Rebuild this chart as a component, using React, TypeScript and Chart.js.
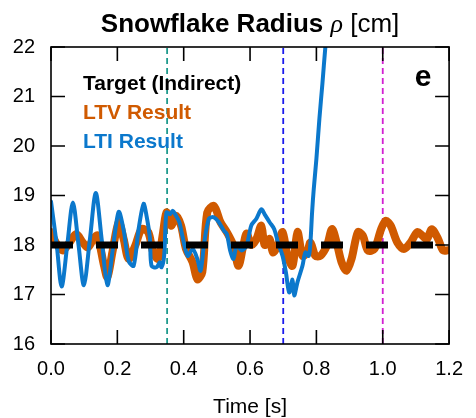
import { useEffect, useRef } from "react";
import { Chart, registerables } from "chart.js";

Chart.register(...registerables);

// Axis ticks
const xTickValues = [0, 0.2, 0.4, 0.6, 0.8, 1.0, 1.2];
const yTickValues = [16, 17, 18, 19, 20, 21, 22];

// Indirect target radius
const targetTime = [0, 1.2];
const targetValue = [18, 18];

// LTV controller response
const ltvTime = [
  0.0, 0.017, 0.036, 0.056, 0.076, 0.096, 0.111, 0.13, 0.14, 0.16, 0.17, 0.185,
  0.204, 0.219, 0.234, 0.254, 0.273, 0.293, 0.308, 0.323, 0.338, 0.348, 0.362,
  0.377, 0.392, 0.407, 0.427, 0.441, 0.456, 0.471, 0.491, 0.511, 0.53, 0.55,
  0.565, 0.58, 0.59, 0.604, 0.619, 0.634, 0.644, 0.659, 0.669, 0.684, 0.698,
  0.713, 0.728, 0.743, 0.758, 0.772, 0.782, 0.797, 0.812, 0.832, 0.847, 0.861,
  0.876, 0.891, 0.906, 0.925, 0.94, 0.955, 0.975, 0.995, 1.009, 1.024, 1.044,
  1.064, 1.084, 1.104, 1.119, 1.133, 1.148, 1.167, 1.182, 1.2,
];
const ltvValue = [
  18.26, 18.02, 17.89, 18.05, 18.22, 18.05, 17.95, 18.15, 18.19, 17.58, 17.35,
  17.85, 18.46, 18.12, 17.72, 17.99, 18.32, 18.26, 17.85, 17.72, 18.26, 18.66,
  18.39, 18.59, 18.39, 17.92, 17.65, 17.31, 17.45, 18.66, 18.79, 18.46, 18.26,
  17.99, 17.58, 18.0, 18.23, 18.0, 18.12, 18.39, 18.0, 18.12, 17.85, 18.0,
  18.26, 17.78, 17.58, 18.26, 17.78, 17.85, 18.05, 17.78, 17.78, 17.99, 18.32,
  18.05, 17.65, 17.48, 17.72, 18.26, 18.19, 17.89, 17.92, 18.32, 18.49, 18.39,
  18.05, 17.92, 18.05, 18.26, 18.19, 18.12, 18.32, 18.12, 17.89, 17.9,
];

// LTI controller response (diverges after ~0.78 s)
const ltiTime = [
  0.0, 0.017, 0.032, 0.049, 0.066, 0.083, 0.099, 0.117, 0.135, 0.153, 0.17,
  0.187, 0.204, 0.219, 0.234, 0.249, 0.264, 0.279, 0.288, 0.298, 0.303, 0.318,
  0.328, 0.333, 0.341, 0.348, 0.358, 0.367, 0.377, 0.387, 0.397, 0.412, 0.427,
  0.441, 0.451, 0.461, 0.476, 0.491, 0.506, 0.521, 0.53, 0.54, 0.55, 0.56,
  0.575, 0.59, 0.604, 0.619, 0.634, 0.644, 0.659, 0.673, 0.684, 0.698, 0.708,
  0.718, 0.728, 0.733, 0.743, 0.758, 0.767, 0.777, 0.782, 0.787, 0.792, 0.8,
  0.809, 0.818, 0.827, 0.832,
];
const ltiValue = [
  18.88, 18.02, 17.16, 18.0, 18.86, 18.0, 17.19, 18.1, 19.05, 18.1, 17.19,
  17.95, 18.67, 18.3, 17.68, 17.58, 18.32, 18.83, 18.59, 18.15, 17.58, 17.55,
  17.65, 17.55, 17.78, 18.66, 18.62, 18.69, 18.59, 18.46, 18.15, 17.78, 17.92,
  17.72, 17.48, 18.0, 18.53, 18.56, 18.46, 18.29, 18.22, 17.89, 17.72, 18.0,
  17.89, 18.0, 18.4, 18.53, 18.72, 18.62, 18.46, 18.32, 18.05, 17.78, 17.45,
  17.04, 17.3, 16.98, 17.25, 17.58, 17.85, 17.78, 18.05, 18.66, 19.13, 19.74,
  20.55, 21.25, 22.0, 22.3,
];

// Event markers
const eventTimes = [0.35, 0.7, 1.0];
const eventColors = ["#1f9a8c", "#1a1aee", "#d21fd2"];

const legendLabels = ["Target (Indirect)", "LTV Result", "LTI Result"];
const legendColors = ["#000000", "#d05a00", "#0b78cc"];

const FONT = '"Liberation Sans", Arial, Helvetica, sans-serif';

const toPoints = (xs: number[], ys: number[]) => xs.map((x, i) => ({ x, y: ys[i] }));

const decorPlugin = {
  id: "decor",
  beforeDatasetsDraw(chart: any) {
    const { ctx, chartArea } = chart;
    const xs = chart.scales.x;
    ctx.save();
    ctx.lineWidth = 1.8;
    ctx.setLineDash([6, 4]);
    eventTimes.forEach((t, i) => {
      const px = xs.getPixelForValue(t);
      ctx.strokeStyle = eventColors[i];
      ctx.beginPath();
      ctx.moveTo(px, chartArea.bottom);
      ctx.lineTo(px, chartArea.top);
      ctx.stroke();
    });
    ctx.restore();
  },
  afterDraw(chart: any) {
    const { ctx, chartArea } = chart;
    const { left, right, top, bottom } = chartArea;
    const xs = chart.scales.x;
    const ys = chart.scales.y;
    ctx.save();
    ctx.setLineDash([]);
    ctx.strokeStyle = "#000";
    ctx.lineWidth = 1.6;
    ctx.strokeRect(left, top, right - left, bottom - top);

    // inward ticks on all four sides
    const tl = 14;
    ctx.beginPath();
    xs.ticks.forEach((t: any) => {
      const px = xs.getPixelForValue(t.value);
      ctx.moveTo(px, bottom);
      ctx.lineTo(px, bottom - tl);
      ctx.moveTo(px, top);
      ctx.lineTo(px, top + tl);
    });
    ys.ticks.forEach((t: any) => {
      const py = ys.getPixelForValue(t.value);
      ctx.moveTo(left, py);
      ctx.lineTo(left + tl, py);
      ctx.moveTo(right, py);
      ctx.lineTo(right - tl, py);
    });
    ctx.stroke();

    // title
    ctx.fillStyle = "#000";
    ctx.textBaseline = "alphabetic";
    const parts = [
      { text: "Snowflake Radius ", font: `bold 26px ${FONT}` },
      { text: "ρ", font: 'italic 26px "Liberation Serif", serif' },
      { text: " [cm]", font: `26px ${FONT}` },
    ];
    let total = 0;
    const widths = parts.map((p) => {
      ctx.font = p.font;
      const w = ctx.measureText(p.text).width;
      total += w;
      return w;
    });
    let cx = (left + right) / 2 - total / 2;
    ctx.textAlign = "left";
    parts.forEach((p, i) => {
      ctx.font = p.font;
      ctx.fillText(p.text, cx, 32);
      cx += widths[i];
    });

    // legend
    ctx.font = `bold 21px ${FONT}`;
    legendLabels.forEach((label, i) => {
      ctx.fillStyle = legendColors[i];
      ctx.fillText(label, 83, 90 + i * 29);
    });

    // panel letter
    ctx.fillStyle = "#000";
    ctx.font = `bold 30px ${FONT}`;
    ctx.textAlign = "center";
    ctx.fillText("e", 423, 86);

    // x axis title
    ctx.font = `21px ${FONT}`;
    ctx.fillText("Time [s]", (left + right) / 2, 413);
    ctx.restore();
  },
};

export default function App() {
  const canvasRef = useRef<HTMLCanvasElement | null>(null);

  useEffect(() => {
    if (!canvasRef.current) return;
    const chart = new Chart(canvasRef.current, {
      type: "line",
      data: {
        datasets: [
          {
            label: legendLabels[0],
            data: toPoints(targetTime, targetValue),
            borderColor: "#000000",
            borderWidth: 7,
            borderDash: [22, 23],
            pointRadius: 0,
            order: 0,
            clip: 0,
          },
          {
            label: legendLabels[2],
            data: toPoints(ltiTime, ltiValue),
            borderColor: legendColors[2],
            borderWidth: 4,
            pointRadius: 0,
            tension: 0.3,
            borderJoinStyle: "round",
            borderCapStyle: "round",
            order: 1,
            clip: 0,
          },
          {
            label: legendLabels[1],
            data: toPoints(ltvTime, ltvValue),
            borderColor: legendColors[1],
            borderWidth: 8,
            pointRadius: 0,
            tension: 0.3,
            borderJoinStyle: "round",
            borderCapStyle: "round",
            order: 2,
            clip: 0,
          },
        ] as any,
      },
      options: {
        animation: false,
        responsive: false,
        events: [],
        layout: { padding: { top: 47, right: 20, left: 0, bottom: 0 } },
        plugins: {
          legend: { display: false },
          tooltip: { enabled: false },
          title: { display: false },
        },
        scales: {
          x: {
            type: "linear",
            min: 0,
            max: 1.2,
            afterBuildTicks: (scale: any) => {
              scale.ticks = xTickValues.map((v) => ({ value: v }));
            },
            afterFit: (scale: any) => {
              scale.height = 74;
            },
            grid: { display: false, drawTicks: false },
            border: { display: false },
            ticks: {
              padding: 13,
              color: "#000",
              font: { family: FONT, size: 20 },
              maxRotation: 0,
              callback: (v: any) => Number(v).toFixed(1),
            },
          },
          y: {
            type: "linear",
            min: 16,
            max: 22,
            afterBuildTicks: (scale: any) => {
              scale.ticks = yTickValues.map((v) => ({ value: v }));
            },
            afterFit: (scale: any) => {
              scale.width = 51;
            },
            grid: { display: false, drawTicks: false },
            border: { display: false },
            ticks: {
              padding: 16,
              color: "#000",
              font: { family: FONT, size: 20 },
              callback: (v: any) => String(v),
            },
          },
        },
      },
      plugins: [decorPlugin],
    });
    return () => chart.destroy();
  }, []);

  return (
    <div style={{ position: "fixed", left: 0, top: 0, width: 476, height: 418, background: "#fff" }}>
      <canvas ref={canvasRef} width={476} height={418} style={{ display: "block" }} />
    </div>
  );
}
